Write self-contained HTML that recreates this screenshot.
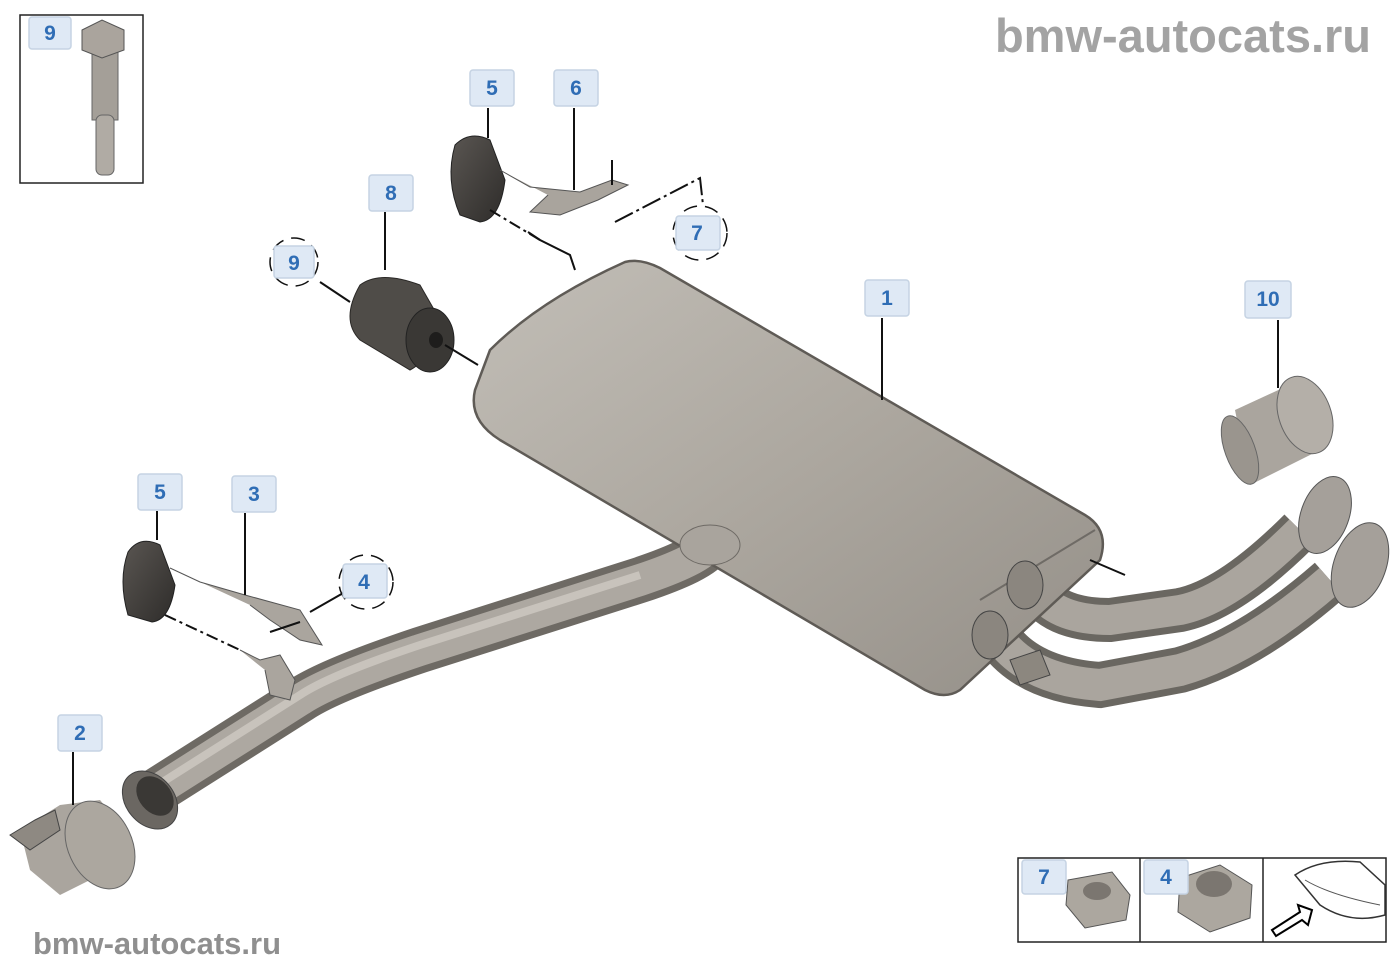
<!DOCTYPE html>
<html><head><meta charset="utf-8"><style>
html,body{margin:0;padding:0;background:#fff;}
svg{display:block}
.lb{fill:#dfe9f5;stroke:#c5d3e3;stroke-width:1.5}
.lt{font-family:"Liberation Sans",sans-serif;font-weight:bold;font-size:21px;fill:#2f6db5;text-anchor:middle}
.ln{stroke:#111;stroke-width:2;fill:none}
</style></head><body>
<svg width="1400" height="980" viewBox="0 0 1400 980" xmlns="http://www.w3.org/2000/svg">
<defs>
<linearGradient id="mg" x1="0" y1="0" x2="1" y2="1">
<stop offset="0" stop-color="#c2beb7"/><stop offset="0.5" stop-color="#aca79f"/><stop offset="1" stop-color="#948f88"/></linearGradient>
<linearGradient id="dg" x1="0" y1="0" x2="1" y2="1">
<stop offset="0" stop-color="#5a5652"/><stop offset="1" stop-color="#2e2c2a"/></linearGradient>
</defs>
<text x="1183" y="52" font-family="Liberation Sans,sans-serif" font-weight="bold" font-size="47" fill="#a3a3a3" text-anchor="middle">bmw-autocats.ru</text>
<text x="157" y="954" font-family="Liberation Sans,sans-serif" font-weight="bold" font-size="31" fill="#8f8f8f" text-anchor="middle">bmw-autocats.ru</text>

<!-- top-left box -->
<rect x="20" y="15" width="123" height="168" fill="#fff" stroke="#222" stroke-width="1.5"/>
<rect x="92" y="50" width="26" height="70" fill="#a49f98" stroke="#666"/>
<rect x="96" y="115" width="18" height="60" rx="6" fill="#b0aba4" stroke="#666"/>
<polygon points="82,30 102,20 124,30 124,50 102,58 82,50" fill="#aaa49d" stroke="#555"/>
<rect class="lb" x="29" y="17" width="42" height="32" rx="3"/><text class="lt" x="50" y="40">9</text>

<!-- main pipe -->
<path d="M150,795 L300,700 Q330,680 420,650 L640,580 Q700,560 710,545" stroke="#6e6a64" stroke-width="46" fill="none"/>
<path d="M150,795 L300,700 Q330,680 420,650 L640,580 Q700,560 710,545" stroke="#ada8a1" stroke-width="32" fill="none"/>
<path d="M150,790 L300,695 Q330,675 420,645 L640,575" stroke="#c8c3bc" stroke-width="8" fill="none"/>
<ellipse cx="150" cy="800" rx="24" ry="32" transform="rotate(-40 150 800)" fill="#6b6762" stroke="#444"/>
<ellipse cx="155" cy="796" rx="16" ry="22" transform="rotate(-40 155 796)" fill="#3a3835"/>

<!-- tailpipes -->
<path d="M1040,595 Q1060,620 1110,620 L1180,610 Q1230,600 1300,530" stroke="#6a6761" stroke-width="44" fill="none"/>
<path d="M1040,595 Q1060,620 1110,620 L1180,610 Q1230,600 1300,530" stroke="#aaa59e" stroke-width="30" fill="none"/>
<path d="M1000,640 Q1030,680 1100,685 L1180,670 Q1250,650 1330,580" stroke="#6a6761" stroke-width="46" fill="none"/>
<path d="M1000,640 Q1030,680 1100,685 L1180,670 Q1250,650 1330,580" stroke="#aaa59e" stroke-width="32" fill="none"/>
<ellipse cx="1325" cy="515" rx="24" ry="40" transform="rotate(20 1325 515)" fill="#a5a09a" stroke="#555"/>
<ellipse cx="1360" cy="565" rx="26" ry="44" transform="rotate(20 1360 565)" fill="#a5a09a" stroke="#555"/>

<!-- muffler -->
<path d="M490,350 Q540,300 625,262 Q640,258 660,268 L1085,515 Q1110,530 1100,560 L960,690 Q945,700 925,690 L500,440 Q468,420 475,390 Z" fill="url(#mg)" stroke="#5f5b56" stroke-width="2.5"/>
<path d="M980,600 L1095,530" stroke="#6f6b66" stroke-width="2"/>
<ellipse cx="710" cy="545" rx="30" ry="20" fill="#a9a49d" stroke="#6e6a65"/>
<ellipse cx="1025" cy="585" rx="18" ry="24" fill="#8b867f" stroke="#444"/>
<ellipse cx="990" cy="635" rx="18" ry="24" fill="#8b867f" stroke="#444"/>
<path d="M1090,560 L1125,575" class="ln"/>
<path d="M575,270 L570,255 L540,240 L528,232" class="ln" stroke="#555"/>
<path d="M1010,660 L1040,650 L1050,675 L1020,685 Z" fill="#8c877f" stroke="#444"/>

<!-- part 10 -->
<path d="M1235,410 L1300,380 L1320,450 L1250,485 Z" fill="#aaa59e"/>
<ellipse cx="1305" cy="415" rx="26" ry="40" transform="rotate(-20 1305 415)" fill="#b4afa8" stroke="#666"/>
<ellipse cx="1240" cy="450" rx="15" ry="36" transform="rotate(-20 1240 450)" fill="#9a958e" stroke="#666"/>

<!-- part 8 -->
<path d="M360,285 Q380,270 420,285 L440,320 Q430,360 410,370 L360,340 Q340,320 360,285Z" fill="#4f4c48" stroke="#2a2826"/>
<ellipse cx="430" cy="340" rx="24" ry="32" fill="#3a3835" stroke="#222"/>
<ellipse cx="436" cy="340" rx="7" ry="8" fill="#1e1d1c"/>
<line x1="445" y1="345" x2="478" y2="365" class="ln"/>
<line x1="320" y1="282" x2="350" y2="302" class="ln"/>

<!-- upper hanger 5/6 -->
<path d="M455,145 Q470,130 490,140 L505,180 Q500,220 480,222 L460,215 Q445,180 455,145Z" fill="url(#dg)" stroke="#222"/>
<path d="M500,170 L530,187 L580,192 L612,180 L628,185 L598,200 L560,215 L530,212 L548,195" fill="#a9a49d" stroke="#555"/>
<path d="M490,210 L540,240" class="ln" stroke-dasharray="12 4 3 4"/>
<path d="M612,160 L612,185" class="ln"/>
<path d="M615,222 L700,178 L703,205" class="ln" stroke-dasharray="20 4 3 4"/>

<!-- lower hanger 5/3/4 -->
<path d="M128,552 Q140,535 160,545 L175,585 Q170,620 152,622 L128,615 Q118,580 128,552Z" fill="url(#dg)" stroke="#222"/>
<path d="M170,568 L200,582 L245,595 L300,610 L322,645 L300,640 L270,620 L250,605" fill="#aaa59e" stroke="#555"/>
<path d="M165,615 L240,650" class="ln" stroke-dasharray="12 4 3 4"/>
<path d="M240,650 L260,660 L280,655 L295,680 L290,700 L270,695 L265,670" fill="#aaa59e" stroke="#555"/>
<path d="M310,612 L345,592" class="ln"/>
<path d="M270,632 L300,622" class="ln"/>

<!-- clamp 2 -->
<path d="M20,830 L60,805 L100,800 L125,830 L130,860 L60,895 L30,870 Z" fill="#aaa59e"/>
<ellipse cx="100" cy="845" rx="32" ry="46" transform="rotate(-25 100 845)" fill="#aca79f" stroke="#666"/>
<path d="M10,835 L35,820 L55,810 L60,830 L30,850 Z" fill="#8e8982" stroke="#444"/>

<!-- leader lines -->
<line x1="488" y1="108" x2="488" y2="138" class="ln"/>
<line x1="574" y1="108" x2="574" y2="190" class="ln"/>
<line x1="385" y1="212" x2="385" y2="270" class="ln"/>
<line x1="882" y1="318" x2="882" y2="400" class="ln"/>
<line x1="1278" y1="320" x2="1278" y2="388" class="ln"/>
<line x1="157" y1="511" x2="157" y2="540" class="ln"/>
<line x1="245" y1="513" x2="245" y2="595" class="ln"/>
<line x1="73" y1="752" x2="73" y2="805" class="ln"/>

<circle cx="294" cy="262" r="24" fill="none" stroke="#111" stroke-width="1.5" stroke-dasharray="14 8"/>
<circle cx="700" cy="233" r="27" fill="none" stroke="#111" stroke-width="1.5" stroke-dasharray="14 8"/>
<circle cx="366" cy="582" r="27" fill="none" stroke="#111" stroke-width="1.5" stroke-dasharray="14 8"/>

<g>
<rect class="lb" x="470" y="70" width="44" height="36" rx="3"/><text class="lt" x="492" y="95">5</text>
<rect class="lb" x="554" y="70" width="44" height="36" rx="3"/><text class="lt" x="576" y="95">6</text>
<rect class="lb" x="369" y="175" width="44" height="36" rx="3"/><text class="lt" x="391" y="200">8</text>
<rect class="lb" x="274" y="246" width="40" height="32" rx="3"/><text class="lt" x="294" y="270">9</text>
<rect class="lb" x="676" y="216" width="44" height="34" rx="3"/><text class="lt" x="697" y="240">7</text>
<rect class="lb" x="865" y="280" width="44" height="36" rx="3"/><text class="lt" x="887" y="305">1</text>
<rect class="lb" x="1245" y="281" width="46" height="37" rx="3"/><text class="lt" x="1268" y="306">10</text>
<rect class="lb" x="138" y="474" width="44" height="36" rx="3"/><text class="lt" x="160" y="499">5</text>
<rect class="lb" x="232" y="476" width="44" height="36" rx="3"/><text class="lt" x="254" y="501">3</text>
<rect class="lb" x="343" y="564" width="44" height="34" rx="3"/><text class="lt" x="364" y="589">4</text>
<rect class="lb" x="58" y="715" width="44" height="36" rx="3"/><text class="lt" x="80" y="740">2</text>
</g>

<rect x="1018" y="858" width="368" height="84" fill="#fff" stroke="#222" stroke-width="1.5"/>
<line x1="1140" y1="858" x2="1140" y2="942" stroke="#222" stroke-width="1.5"/>
<line x1="1263" y1="858" x2="1263" y2="942" stroke="#222" stroke-width="1.5"/>
<polygon points="1068,880 1112,872 1130,895 1126,920 1085,928 1066,905" fill="#aca79f" stroke="#555"/>
<ellipse cx="1097" cy="891" rx="14" ry="9" fill="#7b7670"/>
<polygon points="1180,878 1220,865 1252,885 1250,918 1210,932 1178,912" fill="#aca79f" stroke="#555"/>
<ellipse cx="1214" cy="884" rx="18" ry="13" fill="#7b7670"/>
<rect class="lb" x="1022" y="860" width="44" height="34" rx="3"/><text class="lt" x="1044" y="884">7</text>
<rect class="lb" x="1144" y="860" width="44" height="34" rx="3"/><text class="lt" x="1166" y="884">4</text>
<path d="M1295,875 Q1320,858 1360,862 L1385,885 L1385,915 Q1350,925 1320,905 Z" fill="#fff" stroke="#333" stroke-width="1.5"/>
<path d="M1305,880 Q1330,895 1380,905" fill="none" stroke="#555"/>
<path d="M1272,930 L1300,912 L1298,905 L1312,910 L1308,925 L1302,920 L1276,936 Z" fill="#fff" stroke="#000" stroke-width="2"/>
</svg>
</body></html>
